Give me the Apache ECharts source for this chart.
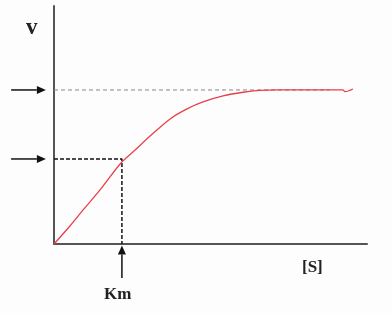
<!DOCTYPE html>
<html><head><meta charset="utf-8">
<script src="https://cdn.jsdelivr.net/npm/echarts@6/dist/echarts.min.js"></script>
<style>html,body{margin:0;padding:0;background:#fdfdfd}#c{width:392px;height:313px}</style>
</head><body><div id="c"></div>
<script>
// Michaelis-Menten curve: [S] (0-100) vs v (Vmax = 1)
const curveS = [0, 5.1, 9.3, 14.7, 21.4, 25.9, 30.7, 37.1, 42.5, 47.6, 54.0, 60.4, 65.8, 71.2, 92.3, 93.0, 95.5];
const curveV = [0, 0.117, 0.221, 0.351, 0.526, 0.610, 0.701, 0.812, 0.877, 0.922, 0.961, 0.985, 0.997, 1, 1, 0.989, 1.006];
const vmax = 1;
const halfV = 0.552;
const km = 21.7;
const vmaxLineEnd = 88;
// arrows: [startS, startV, endS, endV]
const arrows = [
  [-13.7, vmax, -2.6, vmax],
  [-13.7, halfV, -2.6, halfV],
  [km, -0.22, km, -0.01]
];
const labels = { y: 'v', x: '[S]', km: 'Km' };

const chart = echarts.init(document.getElementById('c'));
chart.setOption({
  backgroundColor: '#fdfdfd',
  animation: false,
  grid: { left: 54, top: 6, right: 25, bottom: 69 },
  xAxis: { type: 'value', min: 0, max: 100, axisLine: { lineStyle: { color: '#555', width: 2 } },
           axisTick: { show: false }, axisLabel: { show: false }, splitLine: { show: false } },
  yAxis: { type: 'value', min: 0, max: 1.545, axisLine: { show: true, lineStyle: { color: '#555', width: 2 } },
           axisTick: { show: false }, axisLabel: { show: false }, splitLine: { show: false } },
  series: [
    { type: 'line', data: [[0, vmax], [vmaxLineEnd, vmax]], symbol: 'none',
      lineStyle: { color: '#888', width: 1, type: [4, 3] }, z: 1 },
    { type: 'line', data: [[0, halfV], [km, halfV], [km, 0]], symbol: 'none',
      lineStyle: { color: '#111', width: 1.5, type: [4, 2] }, z: 2 },
    { type: 'line', data: curveS.map((s, i) => [s, curveV[i]]), symbol: 'none', smooth: 0.3,
      lineStyle: { color: '#e8404a', width: 1.3 }, z: 3 },
    { type: 'custom', clip: false, z: 5, data: arrows, encode: { x: [0, 2], y: [1, 3] },
      renderItem: function (params, api) {
        const p0 = api.coord([api.value(0), api.value(1)]);
        const p1 = api.coord([api.value(2), api.value(3)]);
        const dx = p1[0] - p0[0], dy = p1[1] - p0[1];
        const len = Math.sqrt(dx * dx + dy * dy);
        const ux = dx / len, uy = dy / len;
        const hl = 9, hw = 4;
        const bx = p1[0] - ux * hl, by = p1[1] - uy * hl;
        return { type: 'group', children: [
          { type: 'line', shape: { x1: p0[0], y1: p0[1], x2: bx, y2: by },
            style: { stroke: '#111', lineWidth: 1.5 } },
          { type: 'polygon', shape: { points: [[p1[0], p1[1]], [bx - uy * hw, by + ux * hw], [bx + uy * hw, by - ux * hw]] },
            style: { fill: '#111' } }
        ] };
      } }
  ],
  graphic: [
    { type: 'text', left: 26, top: 17, style: { text: labels.y, font: 'bold 23px "Liberation Serif"', fill: '#222' } },
    { type: 'text', left: 302, top: 259, style: { text: labels.x, font: 'bold 17px "Liberation Serif"', fill: '#222' } },
    { type: 'text', left: 104, top: 286, style: { text: labels.km, font: 'bold 17px "Liberation Serif"', fill: '#222' } }
  ]
});
</script></body></html>
